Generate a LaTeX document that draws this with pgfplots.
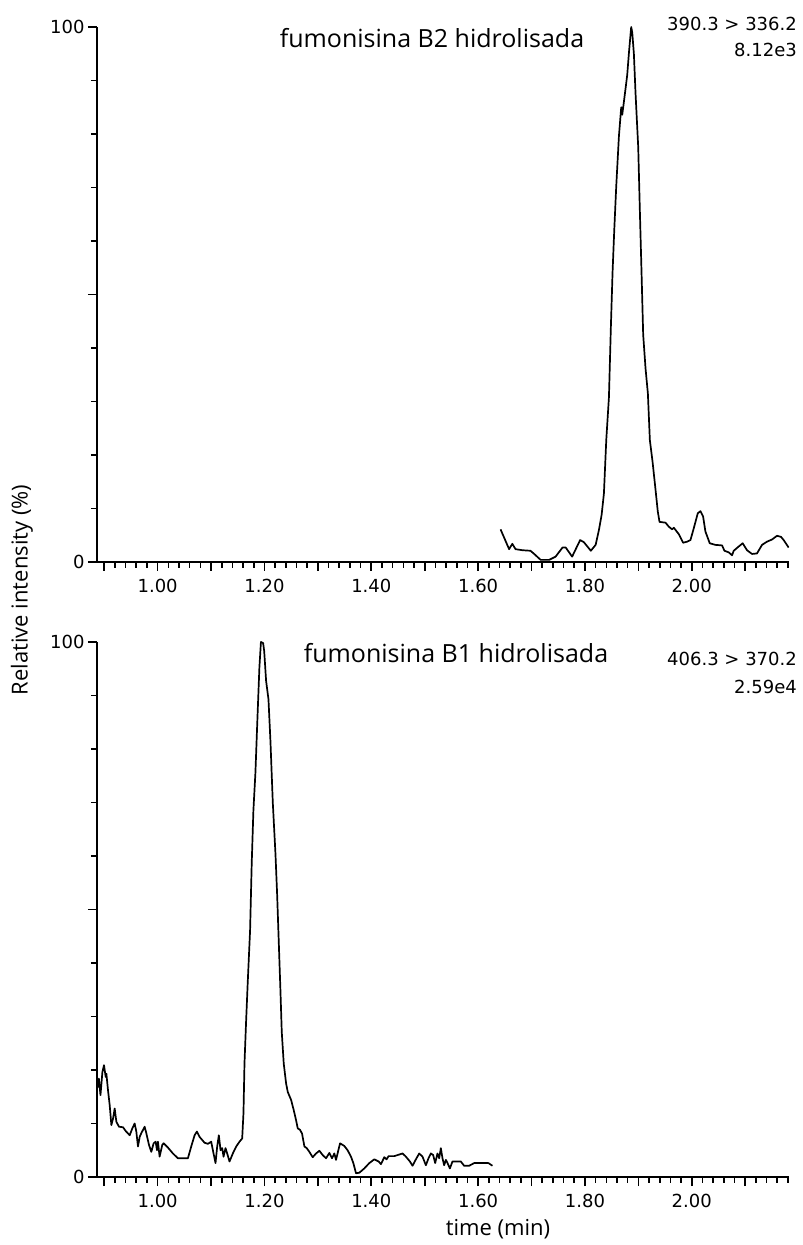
\documentclass[border=0pt]{standalone}
\usepackage{fontspec}
\setmainfont{DejaVu Sans}
\newfontfamily\osans{Open Sans}
\usepackage{pgfplots}
\pgfplotsset{compat=1.18}
\pgfplotsset{chrom/.style={
  scale only axis, width=692pt, height=535pt,
  xmin=0.8865, xmax=2.182, ymin=0, ymax=100,
  axis x line*=bottom, axis y line*=left,
  axis line style={line width=1.9pt, black},
  tick align=outside,
  major tick length=9pt, minor tick length=6pt,
  tick style={line width=1.6pt, black},
  xtick={0.9,1.0,1.1,1.2,1.3,1.4,1.5,1.6,1.7,1.8,1.9,2.0,2.1},
  xticklabels={,1.00,,1.20,,1.40,,1.60,,1.80,,2.00,},
  minor xtick={0.90,0.92,...,2.18},
  ytick={0,50,100}, yticklabels={0,,100},
  minor ytick={10,20,30,40,60,70,80,90},
  tick label style={font=\fontsize{18}{20}\selectfont},
  xticklabel style={yshift=-5pt},
  /pgf/number format/assume math mode=true,
}}
\begin{document}
\begin{tikzpicture}
\useasboundingbox (0pt,0pt) rectangle (803pt,1245pt);
\begin{axis}[chrom, at={(97pt,683pt)}, anchor=south west]
\addplot[black, line width=1.7pt, line join=round] table {
1.642 6.1
1.658 2.4
1.664 3.4
1.670 2.4
1.683 2.2
1.698 2.1
1.705 1.5
1.717 0.4
1.733 0.4
1.745 1.0
1.758 2.7
1.764 2.7
1.776 1.0
1.791 4.1
1.798 3.7
1.811 2.1
1.820 3.2
1.8262 6.0
1.8312 8.8
1.8355 12.8
1.8399 22.8
1.8449 30.8
1.8486 44.2
1.8517 54.2
1.8548 61.9
1.8586 70.3
1.8636 79.6
1.8679 85.0
1.8698 83.6
1.8729 86.0
1.8791 91.0
1.8822 95.0
1.8854 98.7
1.8866 100
1.8885 99.0
1.8916 95.0
1.8947 87.6
1.8997 77.6
1.9028 65.6
1.9059 54.2
1.9090 42.5
1.9134 36.2
1.9178 31.5
1.9215 22.8
1.9265 18.8
1.9315 14.1
1.9364 9.4
1.9396 7.5
1.9508 7.35
1.9570 6.6
1.9632 6.1
1.9664 6.4
1.9757 5.2
1.9838 3.6
1.9913 3.8
1.9975 4.1
2.0037 6.3
2.0112 9.1
2.0162 9.5
2.0212 8.5
2.0255 5.7
2.0336 3.5
2.0442 3.2
2.0567 3.1
2.0611 2.1
2.0692 1.8
2.0754 1.25
2.0785 2.1
2.0879 2.9
2.0953 3.5
2.1034 2.2
2.1128 1.5
2.1221 1.6
2.1315 3.2
2.1408 3.8
2.1502 4.2
2.1595 4.9
2.1670 4.7
2.1720 4.1
2.1813 2.7
};
\end{axis}
\begin{axis}[chrom, at={(97pt,68pt)}, anchor=south west]
\addplot[black, line width=1.7pt, line join=round] table {
0.8865 18.1
0.888 16.8
0.890 18.4
0.893 15.3
0.8966 19.6
0.8996 20.9
0.9028 18.7
0.9041 19.3
0.9071 16.2
0.9103 13.4
0.9134 9.7
0.9165 10.9
0.9196 12.8
0.9228 10.3
0.9277 9.4
0.9352 9.3
0.9402 8.6
0.9477 7.8
0.9527 9.1
0.9570 10.0
0.9601 8.5
0.9632 5.7
0.9664 7.5
0.9695 8.2
0.9757 9.4
0.9788 8.2
0.9838 6.0
0.9882 4.7
0.9925 6.3
0.9963 6.6
0.9988 5.0
1.0006 6.6
1.0037 3.8
1.0087 6.0
1.0112 6.3
1.0193 5.5
1.0286 4.4
1.0380 3.5
1.0567 3.5
1.0629 5.7
1.0692 7.8
1.0735 8.5
1.0785 7.5
1.0879 6.4
1.0941 6.2
1.1003 6.6
1.1047 4.4
1.1084 2.6
1.1115 5.7
1.1146 7.8
1.1178 5.0
1.1209 5.4
1.1234 3.8
1.1271 5.4
1.1302 4.4
1.1346 2.9
1.1408 4.4
1.1471 5.7
1.1533 6.6
1.1583 7.2
1.1607 11.9
1.1626 21.2
1.1656 29.0
1.1687 36.4
1.1731 46.1
1.1762 58.8
1.1793 68.5
1.1831 75.6
1.1862 84.0
1.1905 95.2
1.1934 100
1.1975 99.8
1.1995 98.3
1.2031 92.7
1.2075 89.3
1.2112 81.5
1.2156 70.0
1.2206 60.4
1.2237 52.9
1.2268 43.9
1.2299 34.9
1.2324 27.1
1.2361 21.2
1.2405 17.5
1.2436 15.9
1.2499 14.4
1.2548 12.5
1.2592 10.6
1.2623 9.1
1.2667 8.8
1.2704 8.1
1.2748 5.7
1.2791 5.4
1.2841 4.7
1.2903 3.7
1.2966 4.4
1.3028 4.9
1.3090 4.1
1.3153 3.5
1.3215 4.5
1.3265 3.5
1.3308 4.4
1.3340 3.2
1.3415 6.3
1.3495 5.8
1.3557 5.0
1.3620 3.8
1.3664 2.6
1.3714 0.7
1.3776 0.8
1.3869 1.6
1.3963 2.6
1.4056 3.3
1.4137 2.9
1.4181 2.4
1.4243 3.7
1.4286 3.3
1.4324 3.9
1.4430 3.9
1.4492 4.1
1.4586 4.4
1.4648 3.8
1.4723 2.9
1.4772 2.1
1.4835 3.3
1.4897 4.4
1.4959 3.8
1.5022 2.2
1.5071 3.5
1.5115 4.4
1.5159 4.1
1.5196 2.6
1.5239 4.4
1.5271 3.5
1.5302 5.4
1.5333 3.5
1.5364 2.2
1.5396 3.2
1.5427 2.6
1.5471 1.6
1.5520 2.9
1.5614 2.9
1.5676 2.9
1.5738 2.1
1.5832 2.1
1.5925 2.6
1.6081 2.6
1.6193 2.6
1.6268 2.1
};
\end{axis}
% annotations
\node[anchor=base, font=\osans\fontsize{25}{29}\selectfont, inner sep=0pt] at (432pt,1197pt) {fumonisina B2 hidrolisada};
\node[anchor=base east, font=\fontsize{18}{20}\selectfont, inner sep=0pt] at (797pt,1214pt) {390.3 > 336.2};
\node[anchor=base east, font=\fontsize{18}{20}\selectfont, inner sep=0pt] at (797pt,1188pt) {8.12e3};
\node[anchor=base, font=\osans\fontsize{25}{29}\selectfont, inner sep=0pt] at (456pt,582pt) {fumonisina B1 hidrolisada};
\node[anchor=base east, font=\fontsize{18}{20}\selectfont, inner sep=0pt] at (797pt,579pt) {406.3 > 370.2};
\node[anchor=base east, font=\fontsize{18}{20}\selectfont, inner sep=0pt] at (797pt,551pt) {2.59e4};
\node[rotate=90, font=\osans\fontsize{22}{26}\selectfont, inner sep=0pt] at (22pt,655pt) {Relative intensity (\%)};
\node[font=\osans\fontsize{22}{26}\selectfont, inner sep=0pt] at (498pt,16pt) {time (min)};
\end{tikzpicture}
\end{document}
